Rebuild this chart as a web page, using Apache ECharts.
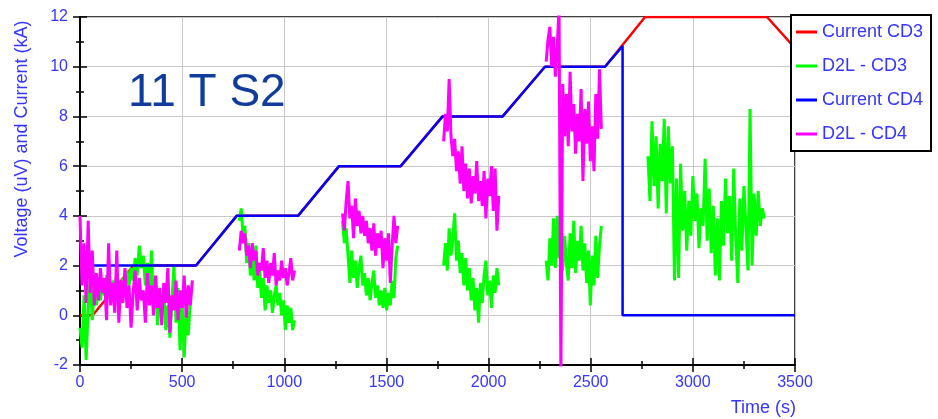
<!DOCTYPE html>
<html>
<head>
<meta charset="utf-8">
<script src="https://cdn.jsdelivr.net/npm/echarts@6/dist/echarts.min.js"></script>
<style>
  html, body { margin: 0; padding: 0; background: #fff; }
  #chart { width: 938px; height: 419px; }
</style>
</head>
<body>
<div id="chart"></div>
<script>
// current ramps (time s, kA)
let currentCd3Time  = [0, 62, 262, 568, 767, 1067, 1268, 1570, 1775, 2069, 2276, 2570, 2766, 3363, 3500];
let currentCd3Value = [0, 0, 2, 2, 4, 4, 6, 6, 8, 8, 10, 10, 12, 12, 10.75];
let currentCd4Time  = [20, 568, 767, 1067, 1268, 1570, 1775, 2069, 2276, 2570, 2656, 2656, 3500];
let currentCd4Value = [2, 2, 4, 4, 6, 6, 8, 8, 10, 10, 10.83, 0, 0];

// D2L voltage plateaus: start time, sample step
let d2lStarts = [0, 780, 1285, 1780, 2282, 2780];
let d2lSteps  = [10, 9, 9, 9, 9, 10];

let cd3Seg1 = [-0.5, -1.3, 0.8, -1.8, 0.3, 1.5, -0.2, 1.2, 0.4, 1.0, 0.6, 1.3, 0.8, 1.6, 1.0, 0.5, 1.4, 0.9, 1.7, 1.1,
               0.7, 1.5, 1.0, 1.8, 1.2, 1.9, 1.4, 2.3, 1.6, 2.8, 1.9, 2.4, 1.2, 2.1, 0.9, 2.6, 0.2, 1.3, -0.4, 0.8,
               0.1, 1.0, -0.6, 0.4, -0.9, 0.6, 2.0, -0.3, 1.1, -1.4, 0.5, -1.7, 0.2, -0.8, 0.6];
let cd3Seg2 = [3.8, 4.3, 3.2, 3.6, 2.1, 2.9, 1.6, 2.4, 1.4, 2.8, 1.1, 1.9, 0.7, 1.5, 0.2, 1.2, 0.5, 1.0, 0.1, 0.8,
               1.2, 0.4, 0.9, 0.0, 0.6, -0.6, 0.4, -0.3, 0.3, -0.6, -0.2];
let cd3Seg3 = [3.8, 2.9, 3.5, 2.4, 1.3, 2.6, 1.5, 2.2, 1.1, 1.9, 2.4, 1.2, 1.7, 0.8, 1.5, 0.6, 1.3, 1.8, 0.7, 1.2,
               0.4, 1.0, 0.3, 1.1, 0.2, 0.9, 0.4, 1.4, 0.7, 2.3, 2.8];
let cd3Seg4 = [2.0, 2.9, 1.8, 3.5, 2.4, 3.1, 4.1, 2.2, 3.0, 1.7, 2.5, 1.2, 2.3, 1.0, 1.9, 0.6, 1.5, 0.2, 1.1, -0.3,
               1.3, 0.5, 1.6, 2.2, 0.8, 1.4, 0.3, 1.6, 0.9, 1.9, 1.2];
let cd3Seg5 = [2.2, 1.4, 3.1, 2.0, 3.9, 1.9, 4.0, 2.3, 3.5, 1.8, 3.2, 2.1, 1.4, 3.3, 1.9, 3.8, 1.7, 3.0, 2.2, 3.6,
               1.8, 2.9, 1.3, 2.6, 0.4, 2.4, 1.2, 3.2, 1.5, 2.8, 3.6];
let cd3Seg6 = [6.4, 4.6, 7.8, 5.2, 7.2, 4.3, 6.9, 5.4, 7.9, 4.1, 7.6, 5.3, 6.8, 1.4, 5.5, 1.5, 6.1, 3.4, 5.0, 2.6,
               4.6, 3.2, 5.6, 3.8, 4.9, 2.7, 4.3, 3.6, 6.3, 3.0, 5.1, 2.5, 4.4, 1.6, 3.9, 1.4, 4.6, 2.8, 5.5, 3.3,
               4.8, 2.2, 5.9, 3.1, 1.3, 4.7, 2.6, 5.2, 3.5, 1.8, 8.3, 2.0, 4.9, 3.2, 5.0, 3.6, 4.3, 3.9];

let cd4Seg1 = [4.0, 1.2, 2.9, 0.5, 3.8, 0.9, 2.6, 0.4, 1.7, 0.6, 1.9, 0.9, 1.5, -0.2, 2.9, 0.4, 1.3, 0.1, 2.6, -0.3,
               1.4, 0.5, 1.9, 0.3, 1.2, -0.5, 0.9, 1.8, 0.2, 1.5, 0.6, 1.0, -0.3, 1.7, 0.4, 1.2, 0.0, 1.6, 0.3, 1.1,
               -0.4, 1.3, 0.5, 1.9, -0.7, 0.8, 0.2, 1.4, -0.2, 1.0, 0.3, 1.6, -0.1, 1.2, 0.4, 1.4];
let cd4Seg2 = [2.6, 3.4, 2.9, 3.3, 2.4, 2.8, 1.9, 2.9, 2.2, 2.6, 1.6, 2.1, 1.8, 2.7, 1.5, 2.2, 1.3, 2.1, 1.6, 2.5,
               1.2, 1.8, 1.4, 2.2, 1.5, 1.9, 1.2, 1.7, 2.3, 1.4, 1.8];
let cd4Seg3 = [4.1, 3.4, 4.6, 5.4, 3.9, 4.4, 3.1, 4.7, 3.6, 4.2, 3.3, 4.0, 3.2, 3.8, 2.9, 3.5, 2.6, 3.7, 2.4, 3.3,
               2.7, 3.4, 1.9, 3.1, 2.2, 3.3, 1.3, 2.8, 4.0, 2.9, 3.6];
let cd4Seg4 = [7.0, 8.1, 7.4, 9.5, 7.2, 6.4, 7.1, 5.8, 6.6, 5.3, 6.8, 5.0, 6.1, 4.7, 5.9, 4.5, 5.6, 4.9, 6.2, 4.6,
               5.4, 4.4, 5.8, 3.9, 5.5, 4.8, 6.0, 4.2, 5.9, 3.4, 4.8];
let cd4Seg5 = [10.2, 11.1, 11.6, 10.0, 11.2, 9.6, 10.8, 12.4, -2.4, 9.3, 7.2, 8.9, 6.8, 9.8, 7.4, 8.5, 6.5, 8.1, 7.0, 9.1,
               5.4, 8.3, 6.9, 8.6, 6.2, 7.6, 5.8, 8.9, 7.1, 9.9, 7.5];

let cd3Segments = [cd3Seg1, cd3Seg2, cd3Seg3, cd3Seg4, cd3Seg5, cd3Seg6];
let cd4Segments = [cd4Seg1, cd4Seg2, cd4Seg3, cd4Seg4, cd4Seg5];

let labelBlue = '#3535ff';
let font = 'Liberation Sans, Arial, sans-serif';

function pairs(times, values)
{
    let out = [];
    for (let i = 0; i < times.length; i++)
        out.push([times[i], values[i]]);
    return out;
}

// joins plateaus with a null point so the line breaks between them
function segmentsToData(segments)
{
    let out = [];
    segments.forEach((seg, k) => {
        let t0 = d2lStarts[k], dt = d2lSteps[k];
        seg.forEach((v, i) => out.push([t0 + i * dt, v]));
        out.push([t0 + seg.length * dt, null]);
    });
    return out;
}

function lineSeries(name, colour, data, z, width)
{
    return {
        name: name,
        type: 'line',
        data: data,
        symbol: 'none',
        showSymbol: false,
        connectNulls: false,
        z: z,
        lineStyle: { color: colour, width: width },
        itemStyle: { color: colour }
    };
}

let gridBox = { left: 80, right: 143, top: 17, bottom: 54 };

let myChart = echarts.init(document.getElementById('chart'));

let option = {
    animation: false,
    grid: [
        Object.assign({ show: true, borderColor: '#000', borderWidth: 1.5, backgroundColor: 'transparent' }, gridBox),
        Object.assign({ show: false }, gridBox)
    ],
    legend: {
        orient: 'vertical',
        left: 791,
        top: 15,
        padding: [8, 8, 8, 5],
        itemGap: 16,
        itemWidth: 21,
        itemHeight: 3,
        icon: 'rect',
        backgroundColor: '#fff',
        borderColor: '#000',
        borderWidth: 2,
        borderRadius: 0,
        textStyle: { color: labelBlue, fontSize: 18, fontFamily: font },
        data: ['Current CD3', 'D2L - CD3', 'Current CD4', 'D2L - CD4']
    },
    xAxis: [
        {
            type: 'value', gridIndex: 0, min: 0, max: 3500, interval: 500,
            axisLine: { onZero: false, lineStyle: { color: '#000', width: 2 } },
            axisTick: { length: 7, lineStyle: { color: '#000', width: 1.5 } },
            minorTick: { show: true, splitNumber: 2, length: 4, lineStyle: { color: '#000', width: 1.5 } },
            splitLine: { lineStyle: { color: '#c8c8c8', width: 1 } },
            axisLabel: { color: labelBlue, fontSize: 16, fontFamily: font, margin: 10,
                         formatter: v => String(v) }
        },
        {
            type: 'value', gridIndex: 1, min: 0, max: 3500, interval: 500,
            axisLine: { show: false, onZero: false },
            axisTick: { inside: true, length: 7, lineStyle: { color: '#000', width: 1.5 } },
            minorTick: { show: true, splitNumber: 2, length: 4, lineStyle: { color: '#000', width: 1.5 } },
            splitLine: { show: false },
            axisLabel: { show: false }
        }
    ],
    yAxis: [
        {
            type: 'value', gridIndex: 0, min: -2, max: 12, interval: 2,
            axisLine: { show: true, onZero: false, lineStyle: { color: '#000', width: 2 } },
            axisTick: { show: true, length: 7, lineStyle: { color: '#000', width: 1.5 } },
            minorTick: { show: true, splitNumber: 2, length: 4, lineStyle: { color: '#000', width: 1.5 } },
            splitLine: { lineStyle: { color: '#c8c8c8', width: 1 } },
            axisLabel: { color: labelBlue, fontSize: 16, fontFamily: font, margin: 12 }
        },
        {
            type: 'value', gridIndex: 1, min: -2, max: 12, interval: 2,
            axisLine: { show: false, onZero: false },
            axisTick: { show: true, inside: true, length: 7, lineStyle: { color: '#000', width: 1.5 } },
            minorTick: { show: true, splitNumber: 2, length: 4, lineStyle: { color: '#000', width: 1.5 } },
            splitLine: { show: false },
            axisLabel: { show: false }
        }
    ],
    graphic: [
        {
            type: 'text', left: 128, top: 70, z: 1,
            style: { text: '11 T S2', fontSize: 46, fontFamily: font, fill: '#103c9c' }
        },
        {
            type: 'text', x: 22, y: 139, rotation: Math.PI / 2,
            style: { text: 'Voltage (uV) and Current (kA)', fontSize: 18, fontFamily: font, fill: labelBlue,
                     align: 'center', verticalAlign: 'middle' }
        },
        {
            type: 'text', x: 796, y: 408,
            style: { text: 'Time (s)', fontSize: 18, fontFamily: font, fill: labelBlue,
                     align: 'right', verticalAlign: 'middle' }
        }
    ],
    series: [
        lineSeries('Current CD3', '#ff0000', pairs(currentCd3Time, currentCd3Value), 2, 2.5),
        lineSeries('D2L - CD3', '#00ff00', segmentsToData(cd3Segments), 3, 3),
        lineSeries('Current CD4', '#0000ff', pairs(currentCd4Time, currentCd4Value), 4, 2.5),
        lineSeries('D2L - CD4', '#ff00ff', segmentsToData(cd4Segments), 5, 3),
        // empty series so the inside-tick axes of the second grid get drawn
        { type: 'line', xAxisIndex: 1, yAxisIndex: 1, data: [], silent: true }
    ]
};

myChart.setOption(option);
</script>
</body>
</html>
